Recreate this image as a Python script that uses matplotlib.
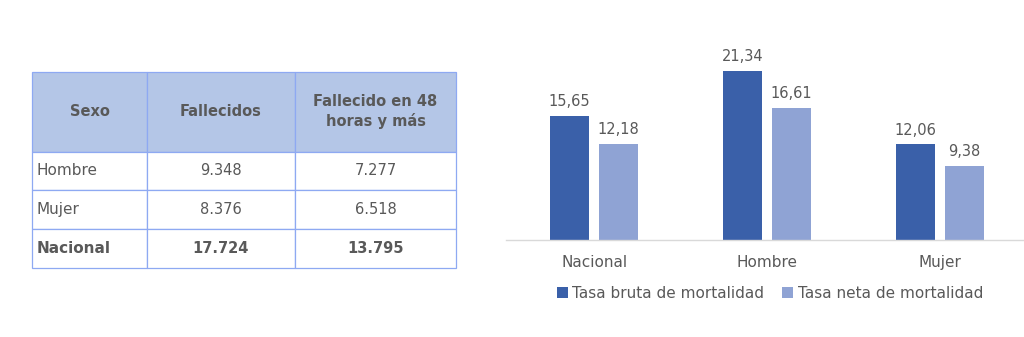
import matplotlib.pyplot as plt
import numpy as np

# table data
col_labels = ["Sexo", "Fallecidos", "Fallecido en 48\nhoras y más"]
row_names = ["Hombre", "Mujer", "Nacional"]
fallecidos = ["9.348", "8.376", "17.724"]
fallecidos_48 = ["7.277", "6.518", "13.795"]

# bar data
categories = ["Nacional", "Hombre", "Mujer"]
tasa_bruta = [15.65, 21.34, 12.06]
tasa_neta = [12.18, 16.61, 9.38]

txt_color = "#595959"
edge_color = "#8EA9F2"
head_color = "#B4C6E7"
dark_blue = "#3A60A9"
light_blue = "#8FA3D4"

W, H = 1024, 337
fig = plt.figure(figsize=(W / 100, H / 100), dpi=100)

# ---- table ----
tax = fig.add_axes([32 / W, (H - 268) / H, 424 / W, 196 / H])
tax.axis("off")
cells = [[r, a, b] for r, a, b in zip(row_names, fallecidos, fallecidos_48)]
tbl = tax.table(cellText=cells, colLabels=col_labels, colWidths=[115, 148, 161],
                bbox=[0, 0, 1, 1], cellLoc="center")
tbl.auto_set_font_size(False)
for (r, c), cell in tbl.get_celld().items():
    cell.set_edgecolor(edge_color)
    cell.set_linewidth(0.9)
    t = cell.get_text()
    t.set_color(txt_color)
    t.set_fontsize(10.5)
    if r == 0:
        cell.set_facecolor(head_color)
        cell.set_height(80)
        t.set_fontweight("bold")
        t.set_linespacing(1.3)
    else:
        cell.set_height(39)
        if c == 0:
            cell.set_text_props(ha="left")
            cell.PAD = 0.04
            t.set_fontsize(11)
        if r == 3:
            t.set_fontweight("bold")

# ---- bars ----
ax = fig.add_axes([506 / W, (H - 240) / H, 519 / W, 200 / H])
x = np.arange(len(categories))
bw = 0.225
off = 0.1416
b1 = ax.bar(x - off, tasa_bruta, bw, color=dark_blue, label="Tasa bruta de mortalidad")
b2 = ax.bar(x + off, tasa_neta, bw, color=light_blue, label="Tasa neta de mortalidad")
for bars, vals in ((b1, tasa_bruta), (b2, tasa_neta)):
    for rect, v in zip(bars, vals):
        ax.annotate(f"{v:.2f}".replace(".", ","),
                    (rect.get_x() + rect.get_width() / 2, v),
                    xytext=(0, 5), textcoords="offset points",
                    ha="center", va="bottom", fontsize=10.5, color=txt_color)
ax.set_xlim(-0.51, 2.49)
ax.set_ylim(0, 25.25)
ax.set_xticks(x)
ax.set_xticklabels(categories, fontsize=11, color=txt_color)
ax.tick_params(axis="x", length=0, pad=11)
ax.set_yticks([])
for s in ["top", "right", "left"]:
    ax.spines[s].set_visible(False)
ax.spines["bottom"].set_color("#D9D9D9")
ax.spines["bottom"].set_linewidth(1)
ax.patch.set_alpha(0)

leg = fig.legend(handles=[b1, b2], loc="center", bbox_to_anchor=(770 / W, (H - 293) / H),
                 ncol=2, frameon=False, fontsize=11, handlelength=0.7, handleheight=0.7,
                 handletextpad=0.3, columnspacing=1.2)
for t in leg.get_texts():
    t.set_color(txt_color)

fig.savefig("out.png", dpi=100)
